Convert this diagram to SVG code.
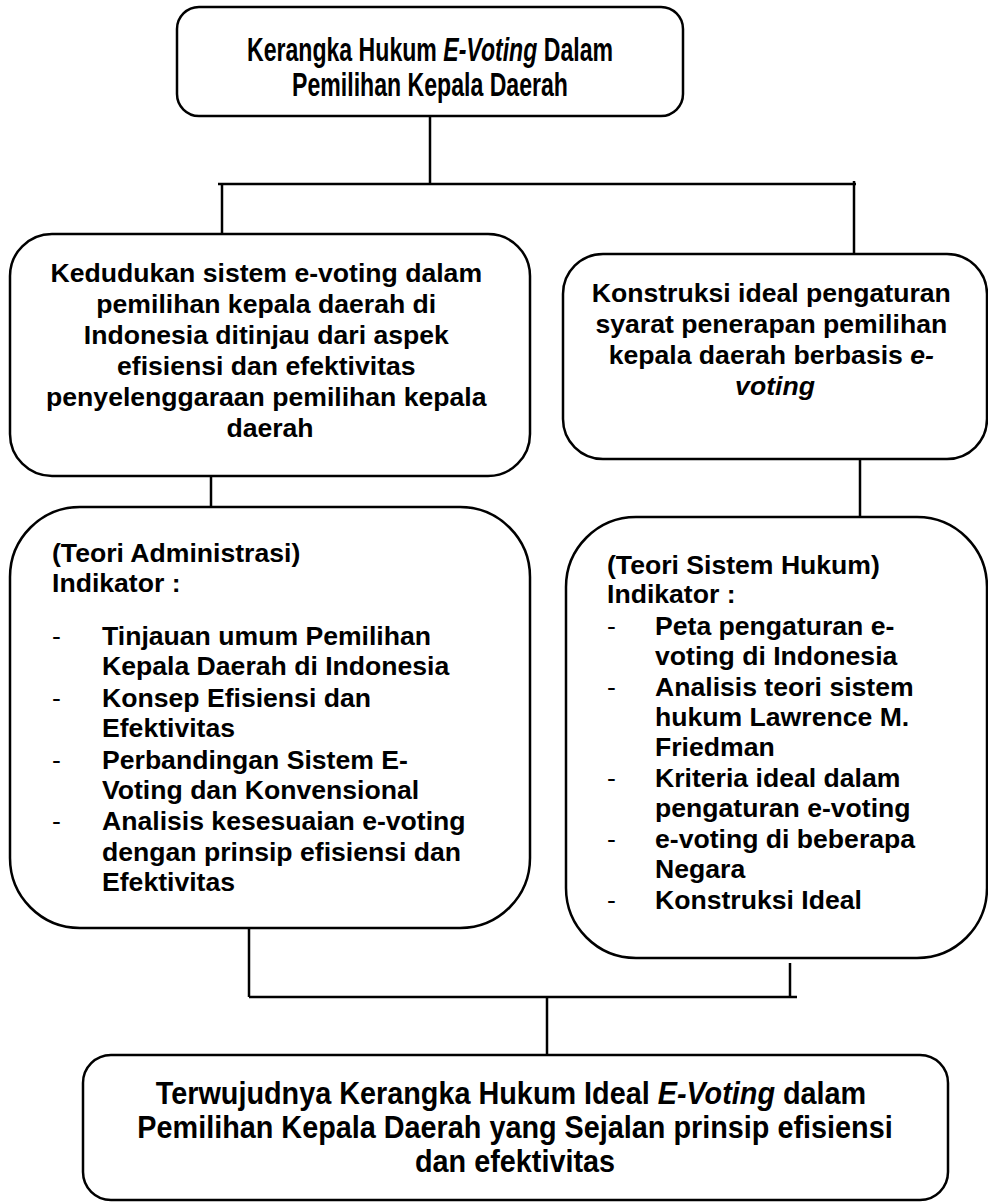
<svg xmlns="http://www.w3.org/2000/svg" width="988" height="1204" viewBox="0 0 988 1204">
<style>
.box{fill:#fff;stroke:#000;stroke-width:2.5}
.t{font-family:"Liberation Sans",Arial,sans-serif;font-weight:bold;fill:#000}
.c{text-anchor:middle}
.n{font-weight:normal}
.i{font-style:italic}
.con line{stroke:#000;stroke-width:2.5}
</style>
<rect width="988" height="1204" fill="#fff"/>
<g class="con">
<line x1="430" y1="116" x2="430" y2="184"/>
<line x1="218" y1="184" x2="856" y2="184"/>
<line x1="222" y1="184" x2="222" y2="234"/>
<line x1="854" y1="181" x2="854" y2="254"/>
<line x1="211" y1="476" x2="211" y2="507"/>
<line x1="860" y1="459" x2="860" y2="517"/>
<line x1="249" y1="928" x2="249" y2="997"/>
<line x1="249" y1="997" x2="797" y2="997"/>
<line x1="790" y1="963" x2="790" y2="997"/>
<line x1="547" y1="997" x2="547" y2="1055"/>
</g>
<g id="top">
<rect class="box" x="177" y="7" width="506" height="109" rx="22"/>
<text class="t c" font-size="33" transform="translate(430 61) scale(0.7 1)">Kerangka Hukum <tspan class="i">E-Voting</tspan> Dalam</text>
<text class="t c" font-size="33" transform="translate(430 96) scale(0.7 1)">Pemilihan Kepala Daerah</text>
</g>
<g id="kedudukan">
<rect class="box" x="10" y="234" width="520" height="242" rx="42"/>
<text class="t c" font-size="26.6">
<tspan x="270" y="282">Kedudukan sistem e-voting dalam</tspan>
<tspan x="270" y="313">pemilihan kepala daerah di</tspan>
<tspan x="270" y="344">Indonesia ditinjau dari aspek</tspan>
<tspan x="270" y="375">efisiensi dan efektivitas</tspan>
<tspan x="270" y="406">penyelenggaraan pemilihan kepala</tspan>
<tspan x="270" y="437">daerah</tspan>
</text>
</g>
<g id="konstruksi">
<rect class="box" x="563" y="254" width="424" height="205" rx="40"/>
<text class="t c" font-size="26.6">
<tspan x="775" y="302">Konstruksi ideal pengaturan</tspan>
<tspan x="775" y="333">syarat penerapan pemilihan</tspan>
<tspan x="775" y="364">kepala daerah berbasis <tspan class="i">e-</tspan></tspan>
<tspan x="775" y="395" class="i">voting</tspan>
</text>
</g>
<g id="teori-administrasi">
<rect class="box" x="10" y="507" width="520" height="421" rx="70"/>
<text class="t" font-size="26.6">
<tspan x="52" y="562">(Teori Administrasi)</tspan>
<tspan x="52" y="592">Indikator :</tspan>
</text>
<g class="t n" font-size="26.6">
<text x="52" y="645">-</text><text x="52" y="707">-</text><text x="52" y="769">-</text><text x="52" y="830">-</text>
</g>
<text class="t" font-size="26.6">
<tspan x="102" y="645">Tinjauan umum Pemilihan</tspan>
<tspan x="102" y="675">Kepala Daerah di Indonesia</tspan>
<tspan x="102" y="707">Konsep Efisiensi dan</tspan>
<tspan x="102" y="737">Efektivitas</tspan>
<tspan x="102" y="769">Perbandingan Sistem E-</tspan>
<tspan x="102" y="799">Voting dan Konvensional</tspan>
<tspan x="102" y="830">Analisis kesesuaian e-voting</tspan>
<tspan x="102" y="861">dengan prinsip efisiensi dan</tspan>
<tspan x="102" y="891">Efektivitas</tspan>
</text>
</g>
<g id="teori-sistem-hukum">
<rect class="box" x="566" y="517" width="421" height="441" rx="70"/>
<text class="t" font-size="26.6">
<tspan x="607" y="574">(Teori Sistem Hukum)</tspan>
<tspan x="607" y="603">Indikator :</tspan>
</text>
<g class="t n" font-size="26.6">
<text x="607" y="635">-</text><text x="607" y="696">-</text><text x="607" y="787">-</text><text x="607" y="848">-</text><text x="607" y="909">-</text>
</g>
<text class="t" font-size="26.6">
<tspan x="655" y="635">Peta pengaturan e-</tspan>
<tspan x="655" y="665">voting di Indonesia</tspan>
<tspan x="655" y="696">Analisis teori sistem</tspan>
<tspan x="655" y="726">hukum Lawrence M.</tspan>
<tspan x="655" y="756">Friedman</tspan>
<tspan x="655" y="787">Kriteria ideal dalam</tspan>
<tspan x="655" y="817">pengaturan e-voting</tspan>
<tspan x="655" y="848">e-voting di beberapa</tspan>
<tspan x="655" y="878">Negara</tspan>
<tspan x="655" y="909">Konstruksi Ideal</tspan>
</text>
</g>
<g id="hasil">
<rect class="box" x="83" y="1055" width="865" height="145" rx="28"/>
<text class="t c" font-size="32" transform="translate(511 1104) scale(0.9 1)">Terwujudnya Kerangka Hukum Ideal <tspan class="i">E-Voting</tspan> dalam</text>
<text class="t c" font-size="32" transform="translate(515 1138) scale(0.9 1)">Pemilihan Kepala Daerah yang Sejalan prinsip efisiensi</text>
<text class="t c" font-size="32" transform="translate(515 1172) scale(0.9 1)">dan efektivitas</text>
</g>
</svg>
